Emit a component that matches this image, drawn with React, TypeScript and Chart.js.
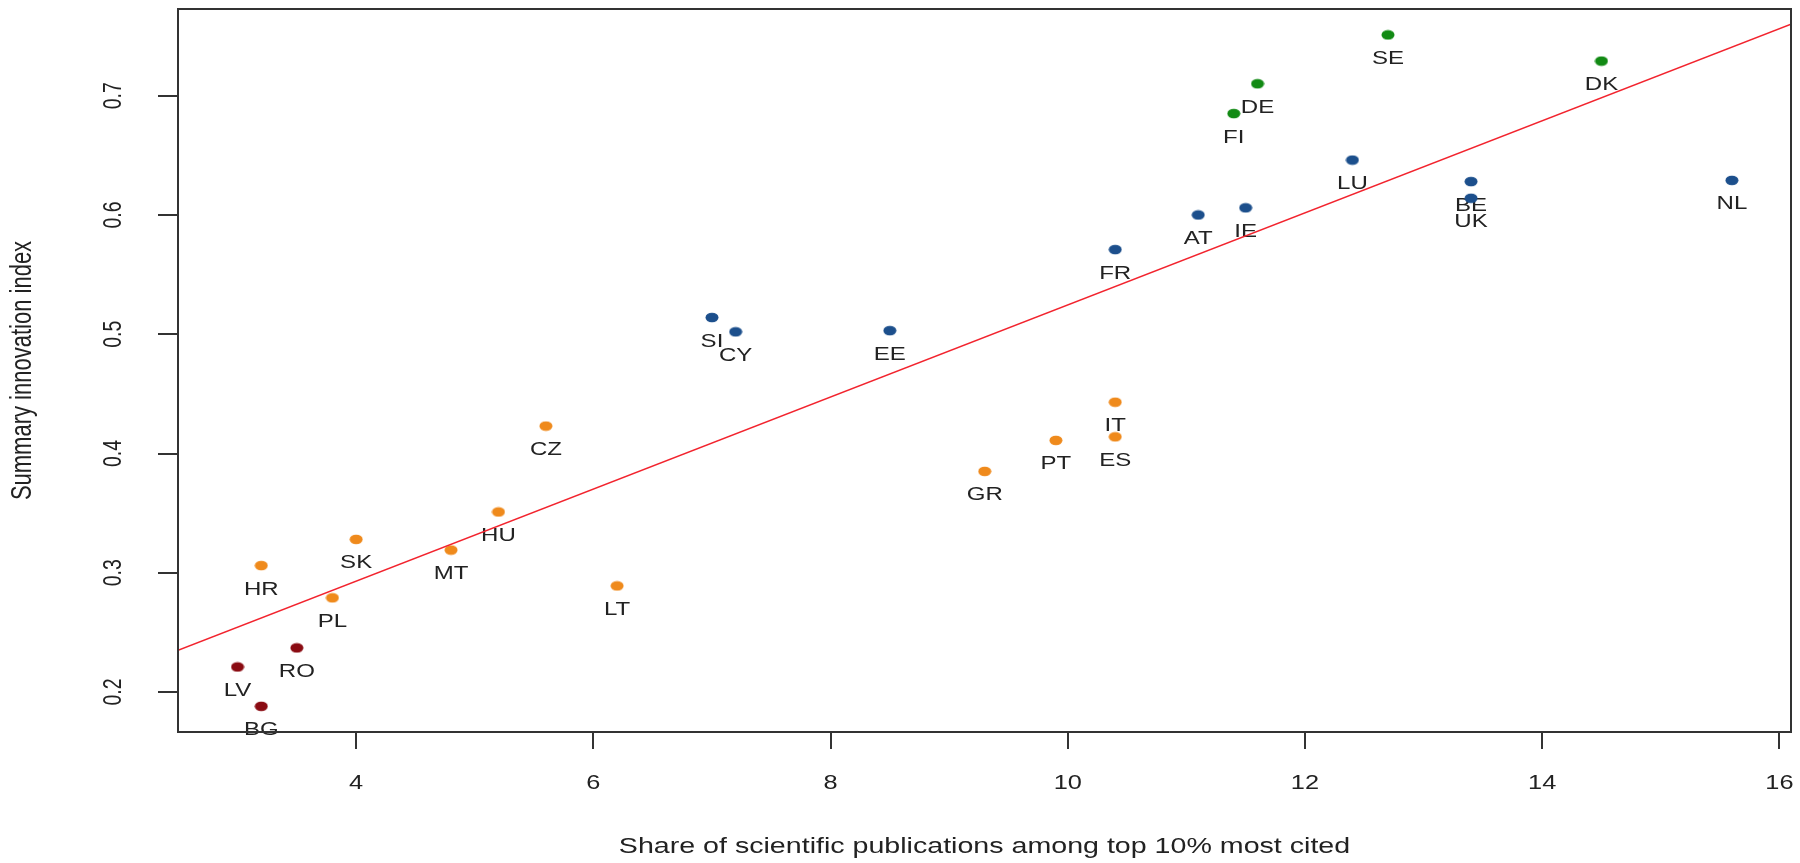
import React, { useEffect, useRef } from "react";
import { Chart, registerables } from "chart.js";

Chart.register(...registerables);

// ---- data ----
const countries = ["AT", "BE", "BG", "CY", "CZ", "DE", "DK", "EE", "ES", "FI", "FR", "GR", "HR", "HU", "IE", "IT", "LT", "LU", "LV", "MT", "NL", "PL", "PT", "RO", "SE", "SI", "SK", "UK"];
const xValues = [11.1, 13.4, 3.2, 7.2, 5.6, 11.6, 14.5, 8.5, 10.4, 11.4, 10.4, 9.3, 3.2, 5.2, 11.5, 10.4, 6.2, 12.4, 3.0, 4.8, 15.6, 3.8, 9.9, 3.5, 12.7, 7.0, 4.0, 13.4];
const yValues = [0.600, 0.628, 0.188, 0.502, 0.423, 0.710, 0.729, 0.503, 0.414, 0.685, 0.571, 0.385, 0.306, 0.351, 0.606, 0.443, 0.289, 0.646, 0.221, 0.319, 0.629, 0.279, 0.411, 0.237, 0.751, 0.514, 0.328, 0.614];
const groups = ["strong", "strong", "modest", "strong", "moderate", "leader", "leader", "strong", "moderate", "leader", "strong", "moderate", "moderate", "moderate", "strong", "moderate", "moderate", "strong", "modest", "moderate", "strong", "moderate", "moderate", "modest", "leader", "strong", "moderate", "strong"];
const groupNames = ["leader", "strong", "moderate", "modest"];
const groupColors = ["#128a14", "#1c4f8c", "#ef8a1c", "#8a0b12"];

const fitX = [2.498, 16.098];
const fitY = [0.235, 0.760];

const xTicks = [4, 6, 8, 10, 12, 14, 16];
const yTicks = [0.2, 0.3, 0.4, 0.5, 0.6, 0.7];
const xTitle = "Share of scientific publications among top 10% most cited";
const yTitle = "Summary innovation index";

const X_MIN = 2.498, X_MAX = 16.098, Y_MIN = 0.1665, Y_MAX = 0.7727;
const SX = 1.3; // horizontal stretch of the reference image
const FONT = '"Liberation Sans", Arial, Helvetica, sans-serif';

function drawText(ctx: CanvasRenderingContext2D, text: string, x: number, y: number, size: number, rotate = false) {
  ctx.save();
  ctx.translate(x, y);
  ctx.scale(SX, 1);
  if (rotate) ctx.rotate(-Math.PI / 2);
  ctx.font = `${size}px ${FONT}`;
  ctx.textAlign = "center";
  ctx.textBaseline = "middle";
  ctx.fillStyle = "#222";
  ctx.fillText(text, 0, 0);
  ctx.restore();
}

function ellipseCanvas(color: string): HTMLCanvasElement {
  const c = document.createElement("canvas");
  c.width = 14;
  c.height = 11;
  const g = c.getContext("2d")!;
  g.fillStyle = color;
  g.beginPath();
  g.ellipse(7, 5.5, 6.5, 4.8, 0, 0, Math.PI * 2);
  g.fill();
  return c;
}

const labelPlugin = {
  id: "pointLabels",
  beforeDatasetsDraw(chart: any) {
    const ctx = chart.ctx;
    const xs = chart.scales.x, ys = chart.scales.y;
    countries.forEach((c, i) => {
      const px = xs.getPixelForValue(xValues[i]);
      const py = ys.getPixelForValue(yValues[i]) + 24;
      drawText(ctx, c, px, py, 18.5);
    });
  },
};

const axesPlugin = {
  id: "rAxes",
  afterDraw(chart: any) {
    const ctx = chart.ctx as CanvasRenderingContext2D;
    const a = chart.chartArea;
    const xs = chart.scales.x, ys = chart.scales.y;
    ctx.save();
    ctx.strokeStyle = "#333";
    ctx.lineWidth = 2;
    ctx.strokeRect(a.left, a.top, a.right - a.left, a.bottom - a.top);
    ctx.beginPath();
    xTicks.forEach((v) => {
      const px = Math.round(xs.getPixelForValue(v));
      ctx.moveTo(px, a.bottom);
      ctx.lineTo(px, a.bottom + 17);
    });
    yTicks.forEach((v) => {
      const py = Math.round(ys.getPixelForValue(v));
      ctx.moveTo(a.left, py);
      ctx.lineTo(a.left - 20, py);
    });
    ctx.stroke();
    ctx.restore();
    xTicks.forEach((v) => drawText(ctx, String(v), xs.getPixelForValue(v), 784, 19.5));
    yTicks.forEach((v) => drawText(ctx, v.toFixed(1), 114, ys.getPixelForValue(v), 19.5, true));
    drawText(ctx, xTitle, (a.left + a.right) / 2, 847, 22);
    drawText(ctx, yTitle, 23, (a.top + a.bottom) / 2, 22, true);
  },
};

export default function App() {
  const ref = useRef<HTMLCanvasElement>(null);
  useEffect(() => {
    if (!ref.current) return;
    const datasets: any[] = groupNames.map((g, gi) => ({
      type: "scatter",
      label: g,
      data: countries
        .map((_, i) => i)
        .filter((i) => groups[i] === g)
        .map((i) => ({ x: xValues[i], y: yValues[i] })),
      pointStyle: ellipseCanvas(groupColors[gi]),
      pointRadius: 6,
      order: 2,
    }));
    datasets.push({
      type: "line",
      label: "fit",
      data: fitX.map((x, i) => ({ x, y: fitY[i] })),
      borderColor: "#f2242e",
      borderWidth: 1.6,
      pointRadius: 0,
      fill: false,
      order: 1,
    });
    const chart = new Chart(ref.current, {
      type: "scatter",
      data: { datasets },
      options: {
        responsive: false,
        animation: false,
        devicePixelRatio: 1,
        layout: { padding: { left: 178, right: 9, top: 9, bottom: 131 } },
        scales: {
          x: { type: "linear", min: X_MIN, max: X_MAX, display: false },
          y: { type: "linear", min: Y_MIN, max: Y_MAX, display: false },
        },
        plugins: { legend: { display: false }, tooltip: { enabled: false } },
        events: [],
      },
      plugins: [labelPlugin, axesPlugin],
    } as any);
    return () => chart.destroy();
  }, []);
  return (
    <div style={{ position: "fixed", left: 0, top: 0, width: 1800, height: 863, background: "#fff" }}>
      <canvas ref={ref} width={1800} height={863} style={{ display: "block" }} />
    </div>
  );
}
